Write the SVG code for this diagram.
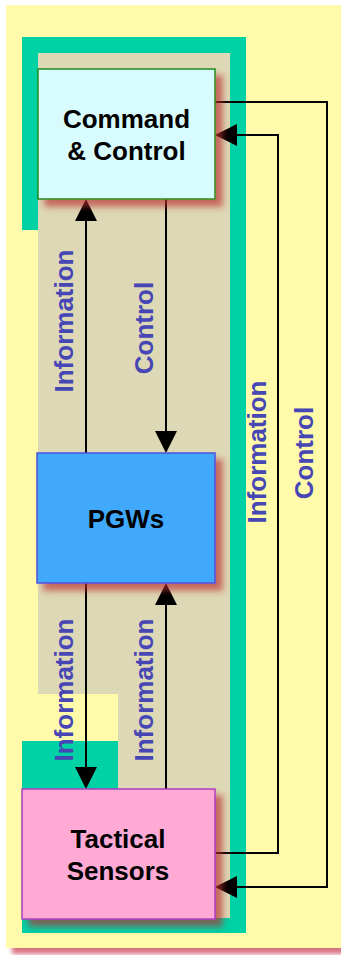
<svg xmlns="http://www.w3.org/2000/svg" width="341" height="955" viewBox="0 0 341 955">
  <defs>
    <filter id="shadow" x="-20%" y="-20%" width="150%" height="150%">
      <feDropShadow dx="7" dy="7" stdDeviation="3" flood-color="#b82a2a" flood-opacity="0.65"/>
    </filter>
    <filter id="panelShadow" x="-5%" y="-5%" width="115%" height="115%">
      <feDropShadow dx="6" dy="6" stdDeviation="2" flood-color="#c83c50" flood-opacity="0.7"/>
    </filter>
    <marker id="arrow" viewBox="0 0 22 22" refX="0" refY="11" markerWidth="22" markerHeight="22" markerUnits="userSpaceOnUse" orient="auto">
      <path d="M0,0 L22,11 L0,22 Z" fill="#000"/>
    </marker>
  </defs>
  <style>
    .node-label { font-family: "Liberation Sans", Arial, sans-serif; font-weight: bold; font-size: 26px; fill: #000; text-anchor: middle; }
    .edge-label { font-family: "Liberation Sans", Arial, sans-serif; font-weight: bold; font-size: 26px; fill: #4646b4; text-anchor: middle; }
    .edge { fill: none; stroke: #000; stroke-width: 2; }
    .edge-arrow { marker-end: url(#arrow); }
  </style>

  <rect x="0" y="0" width="341" height="955" fill="#ffffff"/>

  <!-- background panel -->
  <rect x="6" y="5" width="345" height="943" fill="#fffbaa" filter="url(#panelShadow)"/>

  <!-- teal frame with tan interior -->
  <rect x="22" y="37" width="224" height="896" fill="#00d2a6"/>
  <polygon points="38,53 230,53 230,918 118,918 118,694 38,694" fill="#ddd8b6"/>
  <polygon points="22,230 38,230 38,694 118,694 118,741 22,741" fill="#fffbaa"/>

  <!-- connectors -->
  <g id="connectors">
    <path class="edge edge-arrow" d="M86,453 V221"/>
    <path class="edge edge-arrow" d="M166,199 V431"/>
    <path class="edge edge-arrow" d="M86,583 V767"/>
    <path class="edge edge-arrow" d="M166,789 V605"/>
    <path class="edge edge-arrow" d="M215,102 H327 V887 H237"/>
    <path class="edge edge-arrow" d="M215,853 H278 V135 H237"/>

    <text class="edge-label" transform="translate(73,321) rotate(-90)">Information</text>
    <text class="edge-label" transform="translate(153,328) rotate(-90)">Control</text>
    <text class="edge-label" transform="translate(73,690) rotate(-90)">Information</text>
    <text class="edge-label" transform="translate(153,690) rotate(-90)">Information</text>
    <text class="edge-label" transform="translate(266,452) rotate(-90)">Information</text>
    <text class="edge-label" transform="translate(313,453) rotate(-90)">Control</text>
  </g>

  <!-- nodes -->
  <g id="command-control">
    <rect x="38" y="69" width="177" height="130" fill="#d8fcfd" stroke="#1e8c1e" stroke-width="1.5" filter="url(#shadow)"/>
    <text class="node-label" x="126.5" y="128">Command</text>
    <text class="node-label" x="126.5" y="160">&amp; Control</text>
  </g>

  <g id="pgws">
    <rect x="37" y="453" width="178" height="130" fill="#3fa9fb" stroke="#5050dc" stroke-width="1.5" filter="url(#shadow)"/>
    <text class="node-label" x="126" y="528">PGWs</text>
  </g>

  <g id="tactical-sensors">
    <rect x="22" y="789" width="193" height="130" fill="#ffaad5" stroke="#b03cc0" stroke-width="1.5" filter="url(#shadow)"/>
    <text class="node-label" x="118" y="848">Tactical</text>
    <text class="node-label" x="118" y="880">Sensors</text>
  </g>
</svg>
